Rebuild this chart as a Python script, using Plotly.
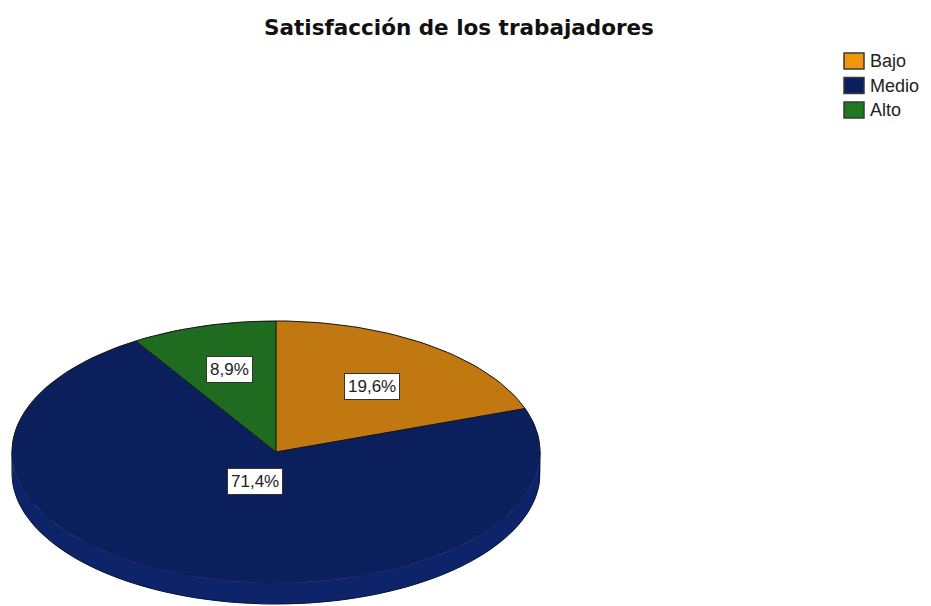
import numpy as np
import plotly.graph_objects as go

# Worker satisfaction shares (percent)
categories = ["Bajo", "Medio", "Alto"]
values = [19.6, 71.4, 8.9]
title_text = "Satisfacción de los trabajadores"

# Styling
top_colors = ["#C27810", "#0B1F5C", "#1F6B1F"]
side_colors = ["#9A5E0A", "#0D236A", "#175417"]
legend_colors = ["#F0960C", "#0B1F5C", "#1F7A1F"]
edge_color = "#151515"

W, H = 931, 606
# Pie geometry in pixel space (axes map 1:1 to pixels)
cx, cy = 276, 452
rx, ry = 264, 131
depth = 21
# Label placement as fractions of the radii (x, y)
label_frac = [(0.626, 0.617), (0.243, 0.242), (0.632, 0.659)]
# Legend placement
leg_x, leg_y0, leg_dy = 844, 61, 24.5
leg_w, leg_h = 20, 16


def ellipse_pts(a0, a1, yoff=0.0, n=180):
    """Points on the ellipse rim between angles a0..a1 (degrees, clockwise from top)."""
    t = np.radians(np.linspace(a0, a1, max(2, int(n * abs(a1 - a0) / 360) + 2)))
    return cx + rx * np.sin(t), cy - ry * np.cos(t) + yoff


def line_trace(x, y, color=edge_color, width=1):
    return go.Scatter(x=x, y=y, mode="lines", line=dict(color=color, width=width),
                      hoverinfo="skip", showlegend=False)


fig = go.Figure()

total = sum(values)
angles = np.concatenate([[0.0], np.cumsum(values) / total * 360.0])

# Side wall: visible front part of the rim (90..270 degrees)
for i, v in enumerate(values):
    a0, a1 = max(angles[i], 90.0), min(angles[i + 1], 270.0)
    if a1 <= a0:
        continue
    xt, yt = ellipse_pts(a0, a1)
    xb, yb = ellipse_pts(a1, a0, yoff=depth)
    fig.add_trace(go.Scatter(
        x=np.concatenate([xt, xb, xt[:1]]), y=np.concatenate([yt, yb, yt[:1]]),
        mode="lines", fill="toself", fillcolor=side_colors[i],
        line=dict(color=side_colors[i], width=0.5),
        hoverinfo="skip", showlegend=False))

# Top faces of the slices (no outline; edges drawn separately)
for i, v in enumerate(values):
    xs, ys = ellipse_pts(angles[i], angles[i + 1])
    fig.add_trace(go.Scatter(
        x=np.concatenate([[cx], xs, [cx]]), y=np.concatenate([[cy], ys, [cy]]),
        mode="lines", fill="toself", fillcolor=top_colors[i],
        line=dict(color=top_colors[i], width=0.5),
        hoverinfo="skip", showlegend=False))

# Back rim of the top face
xr, yr = ellipse_pts(-90, 90)
fig.add_trace(line_trace(xr, yr))
# Outer silhouette of the front: side edges and lower rim
xl, yl = ellipse_pts(90, 270, yoff=depth)
fig.add_trace(line_trace(np.concatenate([[cx + rx], xl, [cx - rx]]),
                         np.concatenate([[cy], yl, [cy]]), color="#0a1438"))
# Radial slice boundaries
for a in angles[:-1]:
    xe, ye = ellipse_pts(a, a)
    fig.add_trace(line_trace([cx, xe[0]], [cy, ye[0]]))

# Percentage labels
for i, v in enumerate(values):
    mid = np.radians((angles[i] + angles[i + 1]) / 2)
    fx, fy = label_frac[i]
    lx = cx + rx * fx * np.sin(mid)
    ly = cy - ry * fy * np.cos(mid)
    fig.add_annotation(
        x=lx, y=ly, xref="x", yref="y", showarrow=False,
        text=f"{v:.1f}".replace(".", ",") + "%",
        font=dict(family="Liberation Sans, Arial", size=17, color="#222222"),
        bgcolor="white", bordercolor="#333333", borderwidth=1, borderpad=3)

# Legend: colour swatches with category names
for i, name in enumerate(categories):
    yc = leg_y0 + i * leg_dy
    fig.add_shape(type="rect", xref="x", yref="y",
                  x0=leg_x, x1=leg_x + leg_w, y0=yc - leg_h / 2, y1=yc + leg_h / 2,
                  fillcolor=legend_colors[i], line=dict(color="#3a3a3a", width=1.5))
    fig.add_annotation(x=leg_x + leg_w + 4, y=yc, xref="x", yref="y",
                       xanchor="left", yanchor="middle", showarrow=False, text=name,
                       font=dict(family="Liberation Sans, Arial", size=18, color="#222222"))

fig.add_annotation(
    x=459, y=27, xref="x", yref="y", showarrow=False, text=f"<b>{title_text}</b>",
    font=dict(family="DejaVu Sans", size=21.5, color="#111111"))

fig.update_layout(
    width=W, height=H,
    margin=dict(l=0, r=0, t=0, b=0),
    paper_bgcolor="white", plot_bgcolor="white",
    xaxis=dict(range=[0, W], visible=False, fixedrange=True),
    yaxis=dict(range=[H, 0], visible=False, fixedrange=True),
    showlegend=False,
)

fig.write_html("out.html")
